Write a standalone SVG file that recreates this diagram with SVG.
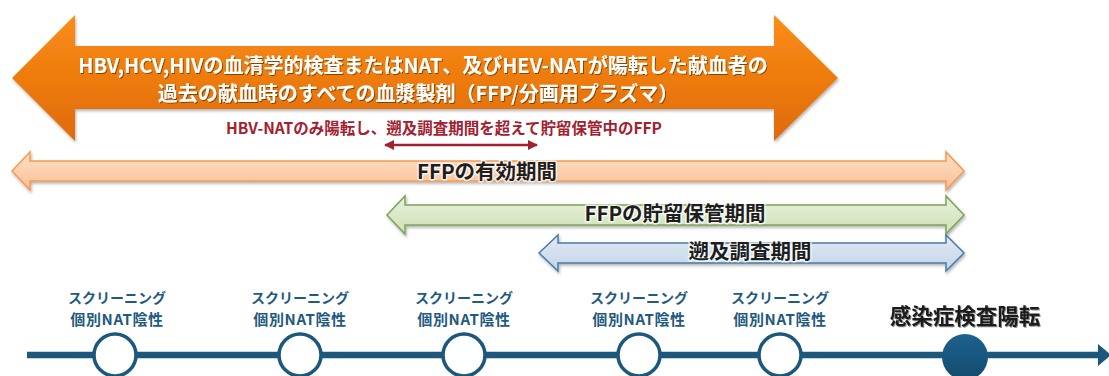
<svg xmlns="http://www.w3.org/2000/svg" width="1109" height="376" viewBox="0 0 1109 376">
<style>
text{font-family:"Noto Sans CJK JP","Noto Sans",sans-serif;font-weight:700;text-anchor:middle;dominant-baseline:central}
.big{font-size:20px;fill:#ffffff}
.red{font-size:15.5px;fill:#a3202f}
.band{font-size:20.5px;fill:#1e1e1e;stroke:#ffffff;stroke-width:3px;stroke-opacity:0.75;paint-order:stroke;stroke-linejoin:round}
.lbl{font-size:14px;fill:#1f5a80}
.lbl2{font-size:15px;fill:#1f5a80;letter-spacing:0.6px}
.pos{font-size:21.5px;fill:#1a1a1a}
.ring{fill:#ffffff;stroke:#1b587c;stroke-width:3.5}
</style>
<defs>
<linearGradient id="gBig" x1="0" y1="0" x2="0" y2="1"><stop offset="0" stop-color="#fb8d14"/><stop offset="1" stop-color="#df6a0c"/></linearGradient>
<linearGradient id="gOr" x1="0" y1="0" x2="0" y2="1"><stop offset="0" stop-color="#fde0c8"/><stop offset="1" stop-color="#fabf94"/></linearGradient>
<linearGradient id="gGr" x1="0" y1="0" x2="0" y2="1"><stop offset="0" stop-color="#e8f0dc"/><stop offset="1" stop-color="#cfe1b6"/></linearGradient>
<linearGradient id="gBl" x1="0" y1="0" x2="0" y2="1"><stop offset="0" stop-color="#e2eaf4"/><stop offset="1" stop-color="#c3d4e8"/></linearGradient>
<linearGradient id="gDot" x1="0" y1="0" x2="0" y2="1"><stop offset="0" stop-color="#1d6290"/><stop offset="1" stop-color="#134a6c"/></linearGradient>
<filter id="sh" x="-5%" y="-10%" width="110%" height="130%"><feDropShadow dx="1" dy="2" stdDeviation="1.5" flood-color="#000" flood-opacity="0.3"/></filter>
<filter id="tsh" x="-5%" y="-20%" width="110%" height="140%"><feDropShadow dx="1" dy="1" stdDeviation="0.7" flood-color="#000" flood-opacity="0.45"/></filter>
<marker id="rh" viewBox="0 0 10 10" refX="9" refY="5" markerWidth="4" markerHeight="4" orient="auto-start-reverse"><path d="M0,0 L10,5 L0,10 Z" fill="#a3202f"/></marker>
</defs>

<g id="donor-products">
<path d="M12,78 L75,15 L75,46 L774,46 L774,15 L838,78 L774,141 L774,109 L75,109 L75,141 Z" fill="url(#gBig)" filter="url(#sh)"/>
<text class="big" x="423" y="64" filter="url(#tsh)">HBV,HCV,HIVの血清学的検査またはNAT、及びHEV-NATが陽転した献血者の</text>
<text class="big" x="418" y="92" filter="url(#tsh)">過去の献血時のすべての血漿製剤（FFP/分画用プラズマ）</text>
</g>

<g id="hbv-note">
<text class="red" x="444" y="127">HBV-NATのみ陽転し、遡及調査期間を超えて貯留保管中のFFP</text>
</g>

<g id="ffp-validity">
<path d="M12,171 L30,152 L30,161 L946,161 L946,152 L964,171 L946,190 L946,181 L30,181 L30,190 Z" fill="url(#gOr)" stroke="#f59a52" stroke-width="1.5" filter="url(#sh)"/>
<text class="band" x="487" y="170">FFPの有効期間</text>
</g>

<g id="ffp-storage">
<path d="M387,215 L405,196 L405,205 L946,205 L946,196 L964,215 L946,234 L946,225 L405,225 L405,234 Z" fill="url(#gGr)" stroke="#7da35a" stroke-width="1.5" filter="url(#sh)"/>
<text class="band" x="675" y="212">FFPの貯留保管期間</text>
</g>

<g id="lookback">
<path d="M539,253 L558,235 L558,243 L946,243 L946,235 L964,253 L946,271 L946,263 L558,263 L558,271 Z" fill="url(#gBl)" stroke="#4a7ba6" stroke-width="1.5" filter="url(#sh)"/>
<text class="band" x="750" y="250">遡及調査期間</text>
</g>

<g id="connectors">
<line x1="385" y1="145" x2="537" y2="145" stroke="#a3202f" stroke-width="2.5" marker-start="url(#rh)" marker-end="url(#rh)"/>
<line x1="27" y1="355" x2="1100" y2="355" stroke="#1b587c" stroke-width="6.5"/>
<polygon points="1098,344 1111,355 1098,366" fill="#1b587c"/>
</g>

<g id="screen1">
<text class="lbl" x="117" y="297">スクリーニング</text>
<text class="lbl2" x="117" y="318">個別NAT陰性</text>
<circle class="ring" cx="115" cy="355" r="21"/>
</g>
<g id="screen2">
<text class="lbl" x="300" y="297">スクリーニング</text>
<text class="lbl2" x="300" y="318">個別NAT陰性</text>
<circle class="ring" cx="300" cy="355" r="21"/>
</g>
<g id="screen3">
<text class="lbl" x="464" y="297">スクリーニング</text>
<text class="lbl2" x="464" y="318">個別NAT陰性</text>
<circle class="ring" cx="464" cy="355" r="21"/>
</g>
<g id="screen4">
<text class="lbl" x="639" y="297">スクリーニング</text>
<text class="lbl2" x="639" y="318">個別NAT陰性</text>
<circle class="ring" cx="639" cy="355" r="21"/>
</g>
<g id="screen5">
<text class="lbl" x="780" y="297">スクリーニング</text>
<text class="lbl2" x="780" y="318">個別NAT陰性</text>
<circle class="ring" cx="780" cy="355" r="21"/>
</g>
<g id="positive">
<text class="pos" x="965" y="314" filter="url(#tsh)">感染症検査陽転</text>
<circle cx="965" cy="357" r="23" fill="url(#gDot)"/>
</g>
</svg>
